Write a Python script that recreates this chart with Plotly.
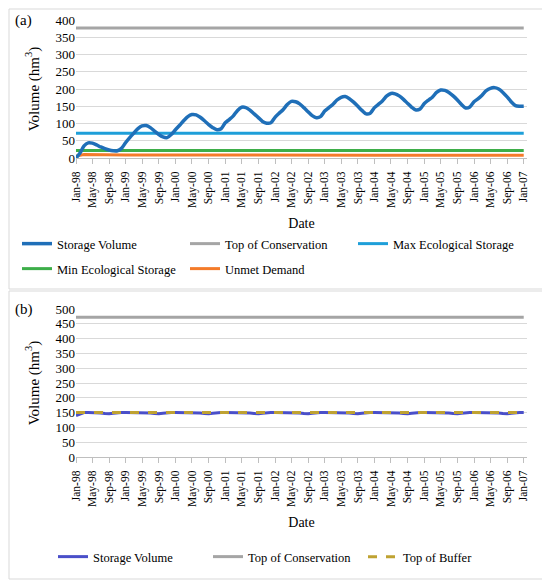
import pandas as pd
import plotly.graph_objects as go

W, H = 550, 583
OFF = 8  # the page body adds 8px around the figure

# monthly dates Jan-98 .. Jan-07
months = pd.date_range("1998-01-01", "2007-01-01", freq="MS")

# panel (a) values (hm3)
storage_a = [
    0, 15, 35, 44, 43, 38, 32, 27, 23, 21, 21, 28,
    45, 60, 72, 85, 93, 94, 88, 78, 68, 61, 59, 68,
    82, 95, 108, 120, 126, 125, 118, 108, 97, 88, 82, 85,
    102, 112, 122, 138, 147, 146, 139, 128, 117, 106, 101, 102,
    118, 130, 140, 155, 164, 163, 157, 146, 134, 123, 117, 120,
    136, 146, 155, 168, 176, 178, 172, 162, 150, 138, 128, 130,
    146, 156, 166, 180, 187, 186, 180, 170, 158, 147, 139, 142,
    158, 168, 176, 190, 197, 196, 190, 180, 168, 155, 145, 148,
    163, 172, 182, 195, 202, 204, 200, 190, 177, 163, 152, 150,
    150,
]
line_dates = ["1998-01-01", "2007-01-01"]
top_cons_a = [377, 377]
max_eco = [72, 72]
min_eco = [22, 22]
unmet_dates = ["1998-01-01", "1998-03-01", "1999-01-01", "2001-01-01", "2004-01-01", "2007-01-01"]
unmet = [6, 10, 9, 8, 8, 8]

# panel (b) values
storage_b = [
    140, 146, 150, 150, 150, 150, 149, 147, 146, 148, 150, 150,
    150, 150, 150, 150, 150, 150, 149, 147, 146, 148, 150, 150,
    150, 150, 150, 150, 150, 150, 149, 147, 146, 148, 150, 150,
    150, 150, 150, 150, 150, 150, 149, 147, 146, 148, 150, 150,
    150, 150, 150, 150, 150, 150, 149, 147, 146, 148, 150, 150,
    150, 150, 150, 150, 150, 150, 149, 147, 146, 148, 150, 150,
    150, 150, 150, 150, 150, 150, 149, 147, 146, 148, 150, 150,
    150, 150, 150, 150, 150, 150, 149, 147, 146, 148, 150, 150,
    150, 150, 150, 150, 150, 150, 149, 147, 146, 148, 150, 150,
    150,
]
top_cons_b = [472, 472]
top_buffer = [150, 150]

FONT = "Liberation Serif"
GRID = "#D9D9D9"


def px_x(v):
    return max(v - OFF, 1) / W


def px_y(v):
    return 1 - max(v - OFF, 1) / H


fig = go.Figure()

# --- panel (a)
fig.add_trace(go.Scatter(x=line_dates, y=top_cons_a, mode="lines", name="Top of Conservation",
                         line=dict(color="#A5A5A5", width=3), legend="legend", legendrank=2,
                         xaxis="x", yaxis="y"))
fig.add_trace(go.Scatter(x=line_dates, y=max_eco, mode="lines", name="Max Ecological Storage",
                         line=dict(color="#1E9FD9", width=3), legend="legend", legendrank=3,
                         xaxis="x", yaxis="y"))
fig.add_trace(go.Scatter(x=line_dates, y=min_eco, mode="lines", name="Min Ecological Storage",
                         line=dict(color="#3DAE49", width=3), legend="legend3", legendrank=4,
                         xaxis="x", yaxis="y"))
fig.add_trace(go.Scatter(x=unmet_dates, y=unmet, mode="lines", name="Unmet Demand",
                         line=dict(color="#F47B2A", width=3), legend="legend3", legendrank=5,
                         xaxis="x", yaxis="y"))
fig.add_trace(go.Scatter(x=months, y=storage_a, mode="lines", name="Storage Volume",
                         line=dict(color="#1F6FB8", width=3.5, shape="spline", smoothing=0.8),
                         legend="legend", legendrank=1, xaxis="x", yaxis="y"))

# --- panel (b)
fig.add_trace(go.Scatter(x=months, y=storage_b, mode="lines", name="Storage Volume",
                         line=dict(color="#4A4FC9", width=3), legend="legend2", xaxis="x2", yaxis="y2"))
fig.add_trace(go.Scatter(x=line_dates, y=top_cons_b, mode="lines", name="Top of Conservation",
                         line=dict(color="#A5A5A5", width=3), legend="legend2", xaxis="x2", yaxis="y2"))
fig.add_trace(go.Scatter(x=line_dates, y=top_buffer, mode="lines", name="Top of Buffer",
                         line=dict(color="#BFA232", width=3, dash="dash"), legend="legend2",
                         xaxis="x2", yaxis="y2"))

xcommon = dict(
    type="date", range=["1998-01-01", "2007-01-25"], tick0="1998-01-01", dtick="M4",
    tickformat="%b-%y", tickangle=-90, ticks="outside", ticklen=5, tickcolor="#BFBFBF",
    ticklabelstandoff=3,
    showgrid=False, showline=True, linecolor="#BFBFBF", linewidth=1, automargin=False,
    tickfont=dict(family=FONT, size=11.5, color="#000"),
    title=dict(text="Date", font=dict(family=FONT, size=14, color="#000"), standoff=11),
)
ycommon = dict(
    showgrid=True, gridcolor=GRID, gridwidth=1, zeroline=False, showline=False, automargin=False,
    tickfont=dict(family=FONT, size=13, color="#000"), ticks="",
    title=dict(text="Volume (hm<sup>3</sup>)", font=dict(family=FONT, size=15, color="#000"), standoff=12),
)
legfont = dict(family=FONT, size=12.5, color="#000")
legcommon = dict(orientation="h", xanchor="left", yanchor="top", entrywidth=123,
                 entrywidthmode="pixels", itemwidth=30, font=legfont, traceorder="normal")

fig.update_layout(
    width=W, height=H,
    margin=dict(l=0, r=0, t=0, b=0, autoexpand=False),
    paper_bgcolor="white", plot_bgcolor="white",
    font=dict(family=FONT, color="#000"),
    xaxis=dict(xcommon, domain=[px_x(76), px_x(527)], anchor="y"),
    yaxis=dict(ycommon, domain=[px_y(158), px_y(20)], range=[0, 400], dtick=50, anchor="x"),
    xaxis2=dict(xcommon, domain=[px_x(76), px_x(527)], anchor="y2"),
    yaxis2=dict(ycommon, domain=[px_y(457), px_y(309)], range=[0, 500], dtick=50, anchor="x2"),
    legend=dict(legcommon, x=px_x(17), y=px_y(229)),
    legend3=dict(legcommon, x=px_x(17), y=px_y(254)),
    legend2=dict(legcommon, x=px_x(53), y=px_y(542), entrywidth=110),
    showlegend=True,
)

# panel frames
fig.add_shape(type="rect", xref="paper", yref="paper", x0=px_x(5), x1=px_x(545),
              y0=px_y(289), y1=px_y(5), line=dict(color=GRID, width=1))
fig.add_shape(type="rect", xref="paper", yref="paper", x0=px_x(5), x1=px_x(547),
              y0=px_y(579), y1=px_y(291), line=dict(color=GRID, width=1))

fig.add_annotation(text="(a)", xref="paper", yref="paper", x=px_x(13), y=px_y(20),
                   xanchor="left", yanchor="middle", showarrow=False,
                   font=dict(family=FONT, size=15, color="#000"))
fig.add_annotation(text="(b)", xref="paper", yref="paper", x=px_x(13), y=px_y(309),
                   xanchor="left", yanchor="middle", showarrow=False,
                   font=dict(family=FONT, size=15, color="#000"))

fig.write_html("out.html")
